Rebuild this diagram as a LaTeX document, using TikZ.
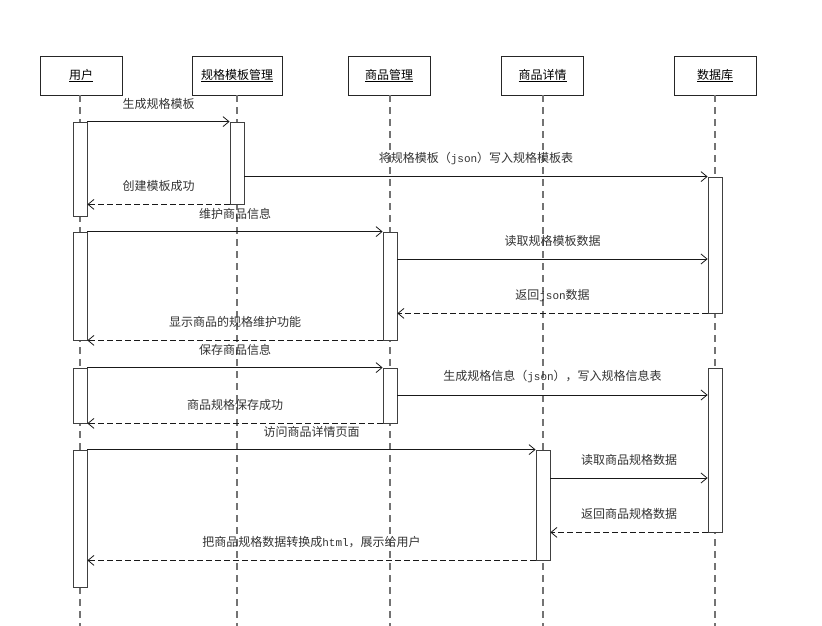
\documentclass[tikz,border=0pt]{standalone}
\usepackage{fontspec}
\setmainfont{Noto Sans CJK SC}
\newfontfamily\monof{Liberation Mono}
\usetikzlibrary{arrows.meta}
\newcommand{\mn}[1]{{\monof\fontsize{11pt}{13pt}\selectfont #1}}
\begin{document}
\begin{tikzpicture}[x=1pt,y=-1pt,
  font=\fontsize{12pt}{14pt}\selectfont,
  head/.style={draw=black!85,line width=0.8pt,minimum width=82pt,minimum height=39pt,inner sep=0pt,fill=white},
  life/.style={draw=black!55,line width=1.2pt,dash pattern=on 7pt off 5pt},
  act/.style={draw=black!75,line width=0.8pt,fill=white,minimum width=14pt,inner sep=0pt},
  msg/.style={draw=black!90,line width=0.8pt,-{Straight Barb[length=6pt,width=10pt]}},
  ret/.style={msg,dash pattern=on 6pt off 3pt},
  lab/.style={midway,yshift=18pt,text=black!80,inner sep=0pt}]
\useasboundingbox[fill=white] (0,0) rectangle (822,626);
% headers
\node[head] (hu) at (81,75.5) {\underline{用户}};
\node[head,minimum width=90pt] (hg) at (237,75.5) {\underline{规格模板管理}};
\node[head] (hp) at (389,75.5) {\underline{商品管理}};
\node[head] (hq) at (542.5,75.5) {\underline{商品详情}};
\node[head] (hd) at (715,75.5) {\underline{数据库}};
% lifelines
\coordinate (eu) at (80,626);
\coordinate (eg) at (237,626);
\coordinate (ep) at (390,626);
\coordinate (eq) at (543,626);
\coordinate (ed) at (715,626);
\draw[life] (hu.south -| eu) -- (eu);
\draw[life] (hg.south -| eg) -- (eg);
\draw[life] (hp.south -| ep) -- (ep);
\draw[life] (hq.south -| eq) -- (eq);
\draw[life] (hd.south -| ed) -- (ed);
% activations
\node[act,minimum height=94pt] (u1) at (80,169) {};
\node[act,minimum height=82pt] (g1) at (237,163) {};
\node[act,minimum height=136pt] (d1) at (715,245) {};
\node[act,minimum height=108pt] (u2) at (80,286) {};
\node[act,minimum height=108pt] (p1) at (390,286) {};
\node[act,minimum height=55pt] (u3) at (80,395.5) {};
\node[act,minimum height=55pt] (p2) at (390,395.5) {};
\node[act,minimum height=164pt] (d2) at (715,450) {};
\node[act,minimum height=137pt] (u4) at (80,518.5) {};
\node[act,minimum height=110pt] (q1) at (543,505) {};
% messages
\draw[msg] (u1.north east) -- (g1.north west) node[lab] {生成规格模板};
\draw[msg] (g1.east |- d1.north) -- (d1.north west) node[lab] {将规格模板（\mn{json}）写入规格模板表};
\draw[ret] (g1.south west) -- (u1.east |- g1.south) node[lab] {创建模板成功};
\draw[msg] (u2.north east) -- (p1.north west) node[lab] {维护商品信息};
\coordinate (y5) at (0,259);
\draw[msg] (p1.east |- y5) -- (d1.west |- y5) node[lab] {读取规格模板数据};
\draw[ret] (d1.south west) -- (p1.east |- d1.south) node[lab] {返回\mn{json}数据};
\draw[ret] (p1.south west) -- (u2.south east) node[lab] {显示商品的规格维护功能};
\draw[msg] (u3.north east) -- (p2.north west) node[lab] {保存商品信息};
\coordinate (y9) at (0,395);
\draw[msg] (p2.east |- y9) -- (d2.west |- y9) node[lab] {生成规格信息（\mn{json}），写入规格信息表};
\draw[ret] (p2.south west) -- (u3.south east) node[lab] {商品规格保存成功};
\draw[msg] (u4.north east) -- (q1.north west) node[lab] {访问商品详情页面};
\coordinate (y12) at (0,478);
\draw[msg] (q1.east |- y12) -- (d2.west |- y12) node[lab] {读取商品规格数据};
\draw[ret] (d2.south west) -- (q1.east |- d2.south) node[lab] {返回商品规格数据};
\draw[ret] (q1.south west) -- (u4.east |- q1.south) node[lab] {把商品规格数据转换成\mn{html}，展示给用户};
\end{tikzpicture}
\end{document}
